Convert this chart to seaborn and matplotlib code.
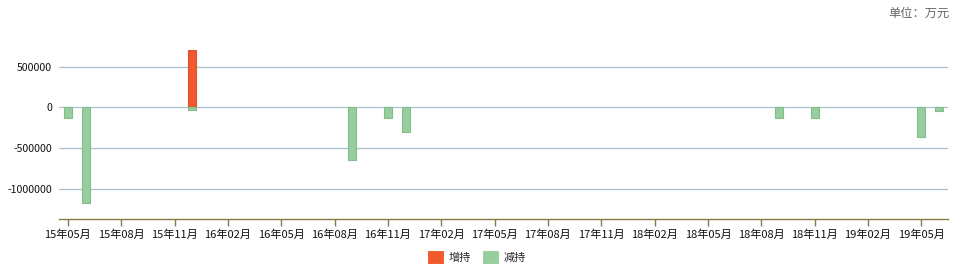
import matplotlib
matplotlib.use("Agg")
import matplotlib.pyplot as plt
import seaborn as sns
import pandas as pd

# ---- data ----
months = [
    "15年05月", "15年06月", "15年07月", "15年08月", "15年09月", "15年10月", "15年11月", "15年12月",
    "16年01月", "16年02月", "16年03月", "16年04月", "16年05月", "16年06月", "16年07月", "16年08月",
    "16年09月", "16年10月", "16年11月", "16年12月", "17年01月", "17年02月", "17年03月", "17年04月",
    "17年05月", "17年06月", "17年07月", "17年08月", "17年09月", "17年10月", "17年11月", "17年12月",
    "18年01月", "18年02月", "18年03月", "18年04月", "18年05月", "18年06月", "18年07月", "18年08月",
    "18年09月", "18年10月", "18年11月", "18年12月", "19年01月", "19年02月", "19年03月", "19年04月",
    "19年05月", "19年06月",
]
increase_months = ["15年12月"]
increase_values = [700000]
decrease_months = ["15年05月", "15年06月", "15年12月", "16年09月", "16年11月",
                   "16年12月", "18年09月", "18年11月", "19年05月", "19年06月"]
decrease_values = [-130000, -1180000, -30000, -650000, -130000,
                   -300000, -130000, -130000, -370000, -40000]
series_names = ["增持", "减持"]
y_ticks = [-1000000, -500000, 0, 500000]
unit_text = "单位：万元"

df = pd.concat([
    pd.DataFrame({"month": increase_months, "value": increase_values, "type": series_names[0]}),
    pd.DataFrame({"month": decrease_months, "value": decrease_values, "type": series_names[1]}),
], ignore_index=True)

# ---- style ----
sns.set_theme(style="white")
plt.rcParams["font.family"] = ["Noto Sans CJK SC", "DejaVu Sans"]

W, H = 959, 278
fig = plt.figure(figsize=(W / 100, H / 100), dpi=100)
ax = fig.add_axes([59 / W, 1 - 219.3 / H, (948 - 59) / W, (219.3 - 26) / H])

palette = {"增持": "#F05A2C", "减持": "#98CE9E"}
edge = {"增持": "#D9552E", "减持": "#84BC8C"}

sns.barplot(data=df, x="month", y="value", hue="type", order=months,
            hue_order=series_names, palette=palette, dodge=False, width=0.45,
            ax=ax, legend=True, saturation=1, linewidth=0.8)

# bar edges
for container, name in zip(ax.containers, series_names):
    for p in container:
        p.set_edgecolor(edge[name])

ax.set_xlim(-0.5, len(months) - 0.5)
ax.set_ylim(-1376000, 1000000)
ax.set_yticks(y_ticks)
ax.set_yticklabels([str(v) for v in y_ticks])
ax.set_xticks(range(0, len(months), 3))
ax.set_xticklabels(months[::3])
ax.set_xlabel("")
ax.set_ylabel("")

ax.grid(axis="y", color="#A9C1CC", linewidth=0.9)
ax.grid(axis="x", visible=False)
ax.set_axisbelow(True)

for s in ["left", "top", "right"]:
    ax.spines[s].set_visible(False)
ax.spines["bottom"].set_color("#8C7A45")
ax.spines["bottom"].set_linewidth(1.0)

ax.tick_params(axis="x", length=5, width=1, color="#8C7A45", labelsize=8,
               labelcolor="#111111", pad=2, bottom=True)
ax.tick_params(axis="y", length=0, labelsize=7.6, labelcolor="#111111", pad=5)

# legend
handles, labels = ax.get_legend_handles_labels()
ax.get_legend().remove()
fig.legend(handles, labels, loc="center", bbox_to_anchor=(476 / W, 1 - 257 / H),
           ncol=2, frameon=False, fontsize=8, handlelength=1.6, handleheight=1.5,
           handletextpad=0.35, columnspacing=1.0)

fig.text(950 / W, 1 - 13 / H, unit_text, ha="right", va="center",
         fontsize=8.8, color="#666666")

fig.savefig("out.png", dpi=100)
